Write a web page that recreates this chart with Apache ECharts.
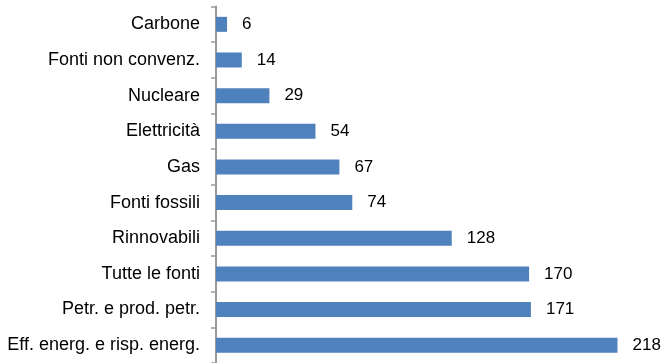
<!DOCTYPE html>
<html>
<head>
<meta charset="utf-8">
<script src="https://cdn.jsdelivr.net/npm/echarts@6/dist/echarts.min.js"></script>
<style>
html,body{margin:0;padding:0;background:#fff;}
#c{width:664px;height:363px;}
</style>
</head>
<body>
<div id="c"></div>
<script>
const categories = ["Carbone","Fonti non convenz.","Nucleare","Elettricità","Gas","Fonti fossili","Rinnovabili","Tutte le fonti","Petr. e prod. petr.","Eff. energ. e risp. energ."];
const values = [6,14,29,54,67,74,128,170,171,218];

const chart = echarts.init(document.getElementById('c'), null, {renderer:'canvas'});
chart.setOption({
  animation:false,
  backgroundColor:'#ffffff',
  grid:{left:216, top:6.5, width:442, height:359, containLabel:false},
  xAxis:{type:'value', min:0, max:240, show:false},
  yAxis:{
    type:'category', data:categories, inverse:true,
    axisLine:{show:true, lineStyle:{color:'#9a9a9a', width:2}},
    axisTick:{show:true, length:5, lineStyle:{color:'#9a9a9a', width:1.5}},
    axisLabel:{color:'#000', fontFamily:'Liberation Sans, Arial, sans-serif', fontSize:18, margin:16}
  },
  series:[{
    type:'bar', data:values, barWidth:15,
    itemStyle:{color:'#4F81BD'},
    label:{show:true, position:'right', distance:15, color:'#000', fontFamily:'Liberation Sans, Arial, sans-serif', fontSize:17}
  }]
});
</script>
</body>
</html>
